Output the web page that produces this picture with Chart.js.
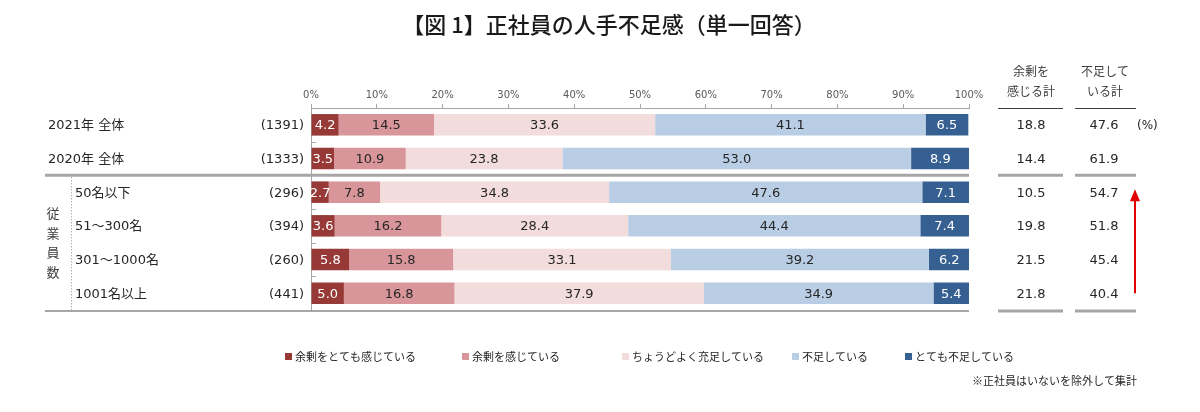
<!DOCTYPE html>
<html lang="ja">
<head>
<meta charset="utf-8">
<title>正社員の人手不足感</title>
<script src="https://cdn.jsdelivr.net/npm/chart.js@4.4.1/dist/chart.umd.min.js"></script>
<style>
  body { margin: 0; background: #fff; }
  canvas { display: block; }
</style>
</head>
<body>
<canvas id="chart" width="1200" height="412"></canvas>
<script>
// データ
const categories = ['2021年 全体', '2020年 全体', '50名以下', '51～300名', '301～1000名', '1001名以上'];
const sampleSizes = [1391, 1333, 296, 394, 260, 441];
const verySurplus = [4.2, 3.5, 2.7, 3.6, 5.8, 5.0];
const surplus = [14.5, 10.9, 7.8, 16.2, 15.8, 16.8];
const adequate = [33.6, 23.8, 34.8, 28.4, 33.1, 37.9];
const shortage = [41.1, 53.0, 47.6, 44.4, 39.2, 34.9];
const severeShortage = [6.5, 8.9, 7.1, 7.4, 6.2, 5.4];
const surplusTotal = [18.8, 14.4, 10.5, 19.8, 21.5, 21.8];
const shortageTotal = [47.6, 61.9, 54.7, 51.8, 45.4, 40.4];
const seriesNames = ['余剰をとても感じている', '余剰を感じている', 'ちょうどよく充足している', '不足している', 'とても不足している'];
const xTicks = [0, 10, 20, 30, 40, 50, 60, 70, 80, 90, 100];

const colors = ['#973a37', '#d9969a', '#f2dcdc', '#b9cde5', '#376092'];
const labelColors = ['#fff', '#262626', '#262626', '#262626', '#fff'];
const legendX = [285, 462, 622, 792, 905];

const numFont = '"DejaVu Sans", "Noto Sans CJK JP", sans-serif';
const jpFont = '"Noto Sans CJK JP", sans-serif';

// 棒の中の数値
const barLabels = {
    id: 'barLabels',
    afterDatasetsDraw(chart) {
        const ctx = chart.ctx;
        ctx.save();
        ctx.font = '13px ' + numFont;
        ctx.textAlign = 'center';
        ctx.textBaseline = 'middle';
        chart.data.datasets.forEach((ds, di) => {
            chart.getDatasetMeta(di).data.forEach((bar, i) => {
                const p = bar.getCenterPoint();
                ctx.fillStyle = labelColors[di];
                ctx.fillText(ds.data[i].toFixed(1), p.x, p.y + 1);
            });
        });
        ctx.restore();
    }
};

// タイトル、左の見出し、右の集計、凡例など
const decorations = {
    id: 'decorations',
    afterDraw(chart) {
        const ctx = chart.ctx;
        const area = chart.chartArea;
        const ys = chart.scales.y;
        const rowY = i => ys.getPixelForValue(i);
        const sepY = (rowY(1) + rowY(2)) / 2;
        ctx.save();

        // タイトル
        ctx.fillStyle = '#1a1a1a';
        ctx.font = '500 22px ' + jpFont;
        ctx.textAlign = 'center';
        ctx.textBaseline = 'middle';
        ctx.fillText('【図 1】正社員の人手不足感（単一回答）', 609, 25);

        // 左側のラベルとサンプル数
        ctx.font = '13px ' + numFont;
        ctx.fillStyle = '#262626';
        categories.forEach((c, i) => {
            ctx.textAlign = 'left';
            ctx.fillText(c, i < 2 ? 48 : 75, rowY(i) + 1);
            ctx.textAlign = 'right';
            ctx.fillText('(' + sampleSizes[i] + ')', 304, rowY(i) + 1);
        });

        // 従業員数（縦書き）
        ctx.font = '13px ' + jpFont;
        ctx.textAlign = 'center';
        ctx.fillStyle = '#404040';
        const midY = (rowY(2) + rowY(5)) / 2;
        ['従', '業', '員', '数'].forEach((ch, k) => {
            ctx.fillText(ch, 53, midY + (k - 1.5) * 19.5);
        });

        // 点線
        ctx.strokeStyle = '#8c8c8c';
        ctx.lineWidth = 1;
        ctx.setLineDash([1, 2]);
        ctx.beginPath();
        ctx.moveTo(71.5, sepY + 2);
        ctx.lineTo(71.5, area.bottom);
        ctx.stroke();
        ctx.setLineDash([]);

        // y軸の内向き目盛り
        ctx.strokeStyle = '#a6a6a6';
        for (let i = 0; i < categories.length - 1; i++) {
            const by = Math.round((rowY(i) + rowY(i + 1)) / 2) + 0.5;
            ctx.beginPath();
            ctx.moveTo(area.left, by);
            ctx.lineTo(area.left + 5, by);
            ctx.stroke();
        }

        // 区切り線
        ctx.strokeStyle = '#a6a6a6';
        ctx.lineWidth = 3;
        [[45, area.right], [998, 1063], [1075, 1136]].forEach(([a, b]) => {
            ctx.beginPath();
            ctx.moveTo(a, sepY);
            ctx.lineTo(b, sepY);
            ctx.stroke();
        });
        ctx.lineWidth = 2;
        ctx.beginPath();
        ctx.moveTo(45, area.bottom + 1);
        ctx.lineTo(area.right, area.bottom + 1);
        ctx.stroke();
        ctx.lineWidth = 3;
        [[998, 1063], [1075, 1136]].forEach(([a, b]) => {
            ctx.beginPath();
            ctx.moveTo(a, area.bottom + 1);
            ctx.lineTo(b, area.bottom + 1);
            ctx.stroke();
        });

        // 右側の見出し
        ctx.fillStyle = '#404040';
        ctx.font = '12px ' + jpFont;
        ctx.textAlign = 'center';
        ctx.fillText('余剰を', 1031, 71);
        ctx.fillText('感じる計', 1031, 91);
        ctx.fillText('不足して', 1105, 71);
        ctx.fillText('いる計', 1105, 91);
        ctx.strokeStyle = '#404040';
        ctx.lineWidth = 1;
        [[998, 1063], [1075, 1136]].forEach(([a, b]) => {
            ctx.beginPath();
            ctx.moveTo(a, 108.5);
            ctx.lineTo(b, 108.5);
            ctx.stroke();
        });

        // 右側の数値
        ctx.fillStyle = '#262626';
        ctx.font = '13px ' + numFont;
        categories.forEach((c, i) => {
            ctx.fillText(surplusTotal[i].toFixed(1), 1031, rowY(i) + 1);
            ctx.fillText(shortageTotal[i].toFixed(1), 1104, rowY(i) + 1);
        });
        ctx.textAlign = 'left';
        ctx.font = '12px ' + numFont;
        ctx.fillText('(%)', 1137, rowY(0) + 1);

        // 赤い矢印
        const ax = 1135;
        const tipY = rowY(2) - 3;
        ctx.strokeStyle = '#e00000';
        ctx.fillStyle = '#e00000';
        ctx.lineWidth = 2;
        ctx.beginPath();
        ctx.moveTo(ax, rowY(5));
        ctx.lineTo(ax, tipY + 10);
        ctx.stroke();
        ctx.beginPath();
        ctx.moveTo(ax, tipY);
        ctx.lineTo(ax - 5, tipY + 12);
        ctx.lineTo(ax + 5, tipY + 12);
        ctx.closePath();
        ctx.fill();

        // 凡例
        ctx.font = '11px ' + jpFont;
        ctx.textAlign = 'left';
        chart.data.datasets.forEach((ds, di) => {
            const lx = legendX[di];
            ctx.fillStyle = ds.backgroundColor;
            ctx.fillRect(lx, 353, 7, 7);
            ctx.fillStyle = '#262626';
            ctx.fillText(ds.label, lx + 10, 357);
        });

        // 注記
        ctx.font = '11px ' + jpFont;
        ctx.fillStyle = '#262626';
        ctx.fillText('※正社員はいないを除外して集計', 972, 381);

        ctx.restore();
    }
};

const seriesValues = [verySurplus, surplus, adequate, shortage, severeShortage];

new Chart(document.getElementById('chart').getContext('2d'), {
    type: 'bar',
    data: {
        labels: categories,
        datasets: seriesValues.map((vals, k) => ({
            label: seriesNames[k],
            data: vals,
            backgroundColor: colors[k],
            borderWidth: 0,
            barPercentage: 0.64,
            categoryPercentage: 1.0
        }))
    },
    options: {
        indexAxis: 'y',
        responsive: false,
        animation: false,
        layout: { padding: { left: 311, right: 231, top: 78, bottom: 102 } },
        plugins: {
            legend: { display: false },
            tooltip: { enabled: false },
            title: { display: false }
        },
        scales: {
            x: {
                position: 'top',
                stacked: true,
                min: 0,
                max: 100,
                afterBuildTicks: s => { s.ticks = xTicks.map(v => ({ value: v })); },
                afterFit: s => { s.height = 30; },
                ticks: {
                    callback: v => v + '%',
                    color: '#595959',
                    font: { size: 10, family: numFont },
                    padding: 3,
                    maxRotation: 0
                },
                grid: { drawOnChartArea: false, tickLength: 4, color: '#a6a6a6' },
                border: { color: '#a6a6a6' }
            },
            y: {
                stacked: true,
                afterFit: s => { s.width = 0; },
                ticks: { display: false },
                grid: { display: false },
                border: { color: '#a6a6a6' }
            }
        }
    },
    plugins: [barLabels, decorations]
});
</script>
</body>
</html>
